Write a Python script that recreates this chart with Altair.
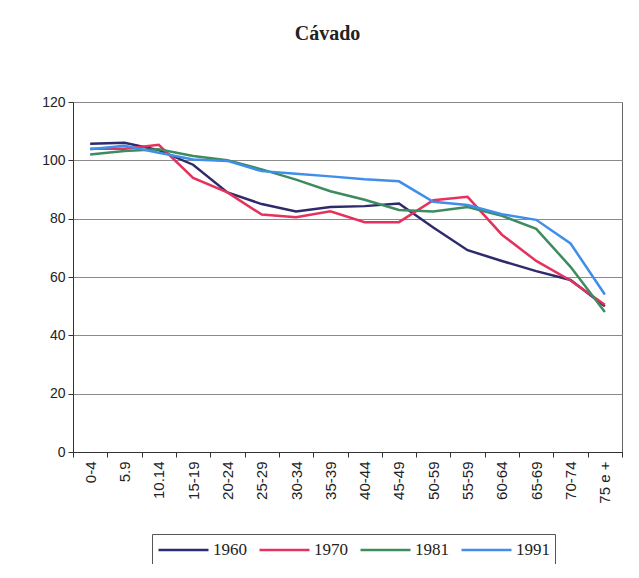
import altair as alt
import pandas as pd

age_groups = ["0-4", "5.9", "10.14", "15-19", "20-24", "25-29", "30-34", "35-39",
              "40-44", "45-49", "50-59", "55-59", "60-64", "65-69", "70-74", "75 e +"]
years = ["1960", "1970", "1981", "1991"]
v1960 = [105.7, 106.0, 103.5, 98.5, 89.0, 85.0, 82.5, 84.0, 84.3, 85.2, 77.0, 69.2, 65.5, 62.0, 59.0, 50.0]
v1970 = [104.0, 104.0, 105.3, 94.0, 89.0, 81.4, 80.5, 82.5, 78.8, 78.8, 86.3, 87.5, 74.5, 65.5, 58.8, 50.5]
v1981 = [102.0, 103.2, 103.8, 101.5, 100.0, 96.9, 93.4, 89.4, 86.5, 83.0, 82.5, 84.0, 81.0, 76.5, 63.5, 48.0]
v1991 = [103.8, 105.0, 102.6, 100.3, 99.8, 96.3, 95.4, 94.5, 93.5, 92.8, 85.8, 84.7, 81.5, 79.6, 71.5, 54.0]
colors = ["#2D2B6B", "#E5315D", "#3D8B5E", "#3E8EEA"]

rows = []
for yr, vals in zip(years, [v1960, v1970, v1981, v1991]):
    for g, v in zip(age_groups, vals):
        rows.append({"grupo": g, "valor": v, "ano": yr})
df = pd.DataFrame(rows)

chart = alt.Chart(df).mark_line(strokeWidth=2.5).encode(
    x=alt.X("grupo:N", sort=age_groups, bandPosition=0.5,
            scale=alt.Scale(type="band", paddingInner=0, paddingOuter=0),
            axis=alt.Axis(title=None, labelAngle=-90, tickBand="extent", grid=False,
                          labelFont="Liberation Sans", labelFontSize=15, labelColor="#222",
                          tickSize=5, labelPadding=4, domainColor="#333", tickColor="#333")),
    y=alt.Y("valor:Q", scale=alt.Scale(domain=[0, 120]),
            axis=alt.Axis(title=None, values=[0, 20, 40, 60, 80, 100, 120],
                          labelFont="Liberation Sans", labelFontSize=14, labelColor="#222",
                          tickSize=5, labelPadding=3, domainColor="#333", tickColor="#333",
                          gridColor="#8a8a8a", gridWidth=1)),
    color=alt.Color("ano:N", scale=alt.Scale(domain=years, range=colors),
                    legend=alt.Legend(title=None, orient="none", legendX=79, legendY=432,
                                      direction="horizontal", symbolType="stroke",
                                      symbolSize=2500, symbolStrokeWidth=2.5, clipHeight=22,
                                      labelFont="Liberation Serif", labelFontSize=17,
                                      labelColor="#222", labelOffset=3, columnPadding=11,
                                      strokeColor="#555", padding=5, fillColor="white")),
).properties(
    width=549, height=350,
    title=alt.TitleParams("Cávado", font="Liberation Serif", fontSize=20, fontWeight="bold",
                          color="#222", anchor="middle", baseline="bottom", offset=31, dx=-20),
    autosize=alt.AutoSizeParams(type="none"),
    padding={"left": 65, "top": 94, "right": 9, "bottom": 112},
).configure_view(stroke="#666", strokeWidth=1)

chart.save("out.html", embed_options={"renderer": "svg", "actions": False})
